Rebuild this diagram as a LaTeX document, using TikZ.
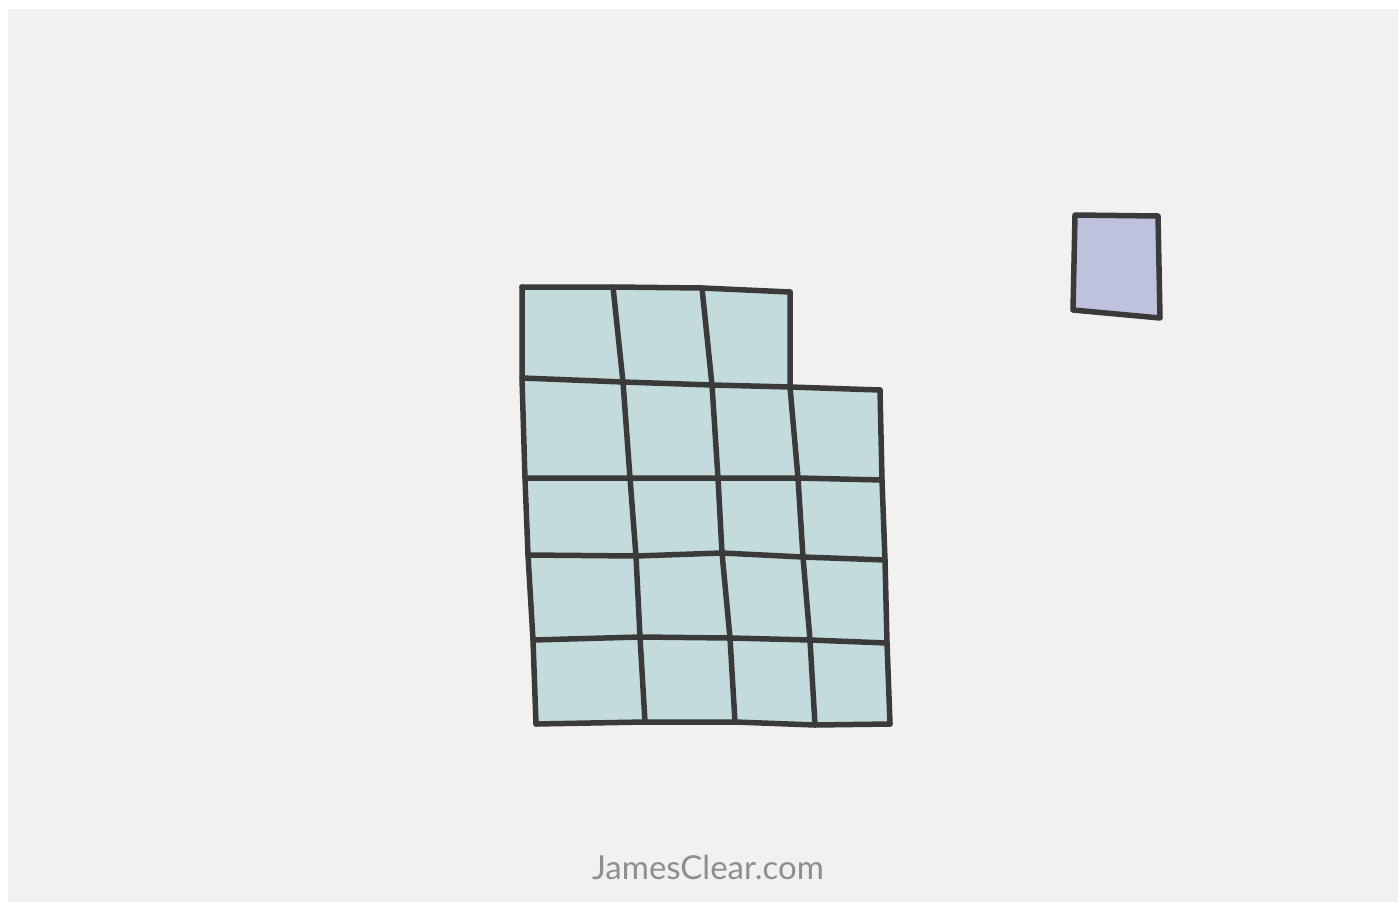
\documentclass[tikz,border=0pt]{standalone}
\usepackage{fontspec}
\setmainfont{Lato}
\usepackage{xcolor}
\definecolor{paper}{HTML}{F2F1F0}
\definecolor{cellblue}{HTML}{C4DBDD}
\definecolor{oddone}{HTML}{BEC2DC}
\definecolor{ink}{HTML}{3A3A3A}
\definecolor{credit}{HTML}{8E8E8E}
\tikzset{pen/.style={draw=ink, line width=5.5pt, line cap=round, line join=round}}

\begin{document}
\begin{tikzpicture}[x=1pt, y=-1pt]
    \useasboundingbox (0,0) rectangle (1398,902);
    \fill[white] (0,0) rectangle (1398,902);
    \fill[paper] (8,9) rectangle (1398,902);

    % grid of habits
    \fill[cellblue] (522,287) -- (790,292) -- (790,387) -- (880,390)
        -- (890,724) -- (536,724) -- cycle;
    % rows
    \draw[pen] (522,287) -- (613,287) -- (702,288) -- (790,292);
    \draw[pen] (522,378) -- (623,382) -- (712,385) -- (790,387) -- (880,390);
    \draw[pen] (525,478) -- (630,478) -- (718,478) -- (798,478) -- (882,480);
    \draw[pen] (528,555) -- (636,556) -- (722,553) -- (803,557) -- (885,560);
    \draw[pen] (533,640) -- (640,637) -- (730,638) -- (810,640) -- (887,643);
    \draw[pen] (536,724) -- (645,722) -- (735,722) -- (815,725) -- (890,724);
    % columns
    \draw[pen] (522,287) -- (522,378) -- (525,478) -- (528,555) -- (533,640) -- (536,724);
    \draw[pen] (613,287) -- (623,382) -- (630,478) -- (636,556) -- (640,637) -- (645,722);
    \draw[pen] (702,288) -- (712,385) -- (718,478) -- (722,553) -- (730,638) -- (735,722);
    \draw[pen] (790,292) -- (790,387) -- (798,478) -- (803,557) -- (810,640) -- (815,725);
    \draw[pen] (880,390) -- (882,480) -- (885,560) -- (887,643) -- (890,724);

    % the single square
    \draw[pen, fill=oddone] (1075,215) -- (1158,216) -- (1160,318) -- (1073,310) -- cycle;

    \node (site) [text=credit, font=\fontsize{33}{38}\selectfont] at (708,867) {JamesClear.com};
\end{tikzpicture}
\end{document}
